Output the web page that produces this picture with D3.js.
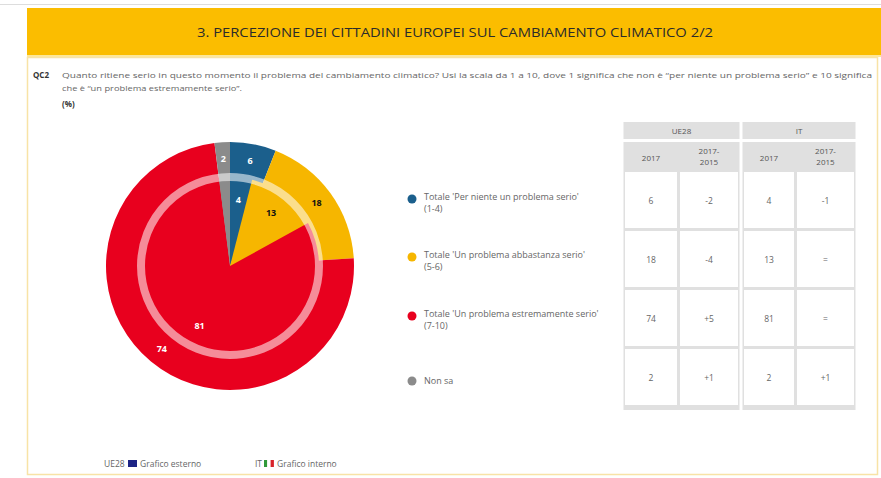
<!DOCTYPE html>
<html>
<head>
<meta charset="utf-8">
<script src="https://cdn.jsdelivr.net/npm/d3@7"></script>
<style>
  body { margin: 0; background: #fff; }
  svg text { font-family: "Open Sans", "Noto Sans", sans-serif; }
</style>
</head>
<body>
<div id="chart"></div>
<script>
const W = 881, H = 478

const categories = ["Per niente", "Abbastanza", "Estremamente", "Non sa"]
const legendLines = [
    ["Totale 'Per niente un problema serio'", "(1-4)"],
    ["Totale 'Un problema abbastanza serio'", "(5-6)"],
    ["Totale 'Un problema estremamente serio'", "(7-10)"],
    ["Non sa"]
]
const ue28Values = [6, 18, 74, 2]      // outer ring
const itValues = [4, 13, 81, 2]        // inner pie
const ue28Change = ["-2", "-4", "+5", "+1"]
const itChange = ["-1", "=", "=", "+1"]
const colors = ["#1b5f8c", "#f6b600", "#e8001e", "#8b8b8b"]
const labelColors = ["#fff", "#111", "#fff", "#fff"]

const svg = d3.select("#chart").append("svg")
    .attr("width", W)
    .attr("height", H)

// top gray rule, banner and frame
svg.append("rect").attr("x", 0).attr("y", 4).attr("width", W).attr("height", 1).attr("fill", "#ddd")
svg.append("rect").attr("x", 27.5).attr("y", 57.5).attr("width", 850).attr("height", 417)
    .attr("fill", "#fff").attr("stroke", "#f8e3a6").attr("stroke-width", 1.5)
svg.append("rect").attr("x", 27).attr("y", 8).attr("width", W - 27).attr("height", 48).attr("fill", "#fbbd00")
svg.append("rect").attr("x", 27).attr("y", 55).attr("width", W - 27).attr("height", 2).attr("fill", "#fde79a")

svg.append("text")
    .text("3. PERCEZIONE DEI CITTADINI EUROPEI SUL CAMBIAMENTO CLIMATICO 2/2")
    .attr("x", 455).attr("y", 37)
    .attr("text-anchor", "middle")
    .attr("font-size", 12.5)
    .attr("fill", "#2b2b2b")
    .attr("textLength", 516)
    .attr("lengthAdjust", "spacingAndGlyphs")

// question
svg.append("text").text("QC2").attr("x", 33).attr("y", 78)
    .attr("font-size", 8).attr("font-weight", "bold").attr("fill", "#333")
svg.append("text")
    .text("Quanto ritiene serio in questo momento il problema del cambiamento climatico? Usi la scala da 1 a 10, dove 1 significa che non è \u201cper niente un problema serio\u201d e 10 significa")
    .attr("x", 62).attr("y", 78).attr("font-size", 7.8).attr("fill", "#666")
    .attr("textLength", 810).attr("lengthAdjust", "spacingAndGlyphs")
svg.append("text")
    .text("che è \u201cun problema estremamente serio\u201d.")
    .attr("x", 62).attr("y", 91).attr("font-size", 7.8).attr("fill", "#666")
    .attr("textLength", 180).attr("lengthAdjust", "spacingAndGlyphs")
svg.append("text").text("(%)").attr("x", 62).attr("y", 107)
    .attr("font-size", 8).attr("font-weight", "bold").attr("fill", "#333")

// pies
const cx = 230, cy = 266
const rOuter = 124, rInner = 89
const pie = d3.pie().sort(null).value(d => d)
const g = svg.append("g").attr("transform", `translate(${cx},${cy})`)

const outerArc = d3.arc().innerRadius(0).outerRadius(rOuter)
const innerArc = d3.arc().innerRadius(0).outerRadius(rInner)

g.selectAll(".outer").data(pie(ue28Values)).join("path")
    .attr("class", "outer")
    .attr("d", outerArc)
    .attr("fill", (d, i) => colors[i])

g.selectAll(".inner").data(pie(itValues)).join("path")
    .attr("class", "inner")
    .attr("d", innerArc)
    .attr("fill", (d, i) => colors[i])

g.append("circle").attr("r", rInner)
    .attr("fill", "none").attr("stroke", "#fff").attr("stroke-opacity", 0.55).attr("stroke-width", 8)

const outerLabel = d3.arc().innerRadius(107).outerRadius(107)
const innerLabel = d3.arc().innerRadius(67).outerRadius(67)

g.selectAll(".outer-lbl").data(pie(ue28Values)).join("text")
    .attr("class", "outer-lbl")
    .attr("transform", d => `translate(${outerLabel.centroid(d)})`)
    .attr("dy", "0.35em")
    .attr("text-anchor", "middle")
    .attr("font-size", 9).attr("font-weight", "bold")
    .attr("fill", (d, i) => labelColors[i])
    .text(d => d.data)

g.selectAll(".inner-lbl").data(pie(itValues).filter(d => d.data >= 3)).join("text")
    .attr("class", "inner-lbl")
    .attr("transform", d => `translate(${innerLabel.centroid(d)})`)
    .attr("dy", "0.35em")
    .attr("text-anchor", "middle")
    .attr("font-size", 9).attr("font-weight", "bold")
    .attr("fill", d => labelColors[d.index])
    .text(d => d.data)

// legend
const rowTops = [172, 231, 290, 349]
const rowH = 58
const legY = [199, 257, 316, 381]

const leg = svg.selectAll(".leg").data(categories).join("g")
    .attr("class", "leg")
    .attr("transform", (d, i) => `translate(412,${legY[i]})`)
leg.append("circle").attr("r", 4.5).attr("fill", (d, i) => colors[i])
leg.each(function(d, i) {
    const multi = legendLines[i].length > 1
    legendLines[i].forEach((l, j) => {
        d3.select(this).append("text")
            .attr("x", 12).attr("y", multi ? 1 + j * 11.5 : 3)
            .attr("font-size", 9).attr("fill", "#666")
            .text(l)
    })
})

// table
const groups = [
    {name: "UE28", x0: 625, w1: 52, w2: 58, v: ue28Values, c: ue28Change},
    {name: "IT", x0: 744, w1: 50, w2: 57, v: itValues, c: itChange}
]
const gap = 3
groups.forEach(gr => {
    const total = gr.w1 + gap + gr.w2
    const tg = svg.append("g")
    tg.append("rect").attr("x", gr.x0 - 1.5).attr("y", 142)
        .attr("width", total + 3).attr("height", 268).attr("fill", "#e0e0e0")
    tg.append("rect").attr("x", gr.x0 - 1.5).attr("y", 122)
        .attr("width", total + 3).attr("height", 17).attr("fill", "#e0e0e0")
    tg.append("text").text(gr.name)
        .attr("x", gr.x0 + total / 2).attr("y", 133.5)
        .attr("text-anchor", "middle").attr("font-size", 8).attr("fill", "#555")

    const cols = [{x: gr.x0, w: gr.w1}, {x: gr.x0 + gr.w1 + gap, w: gr.w2}]
    tg.append("text").text("2017")
        .attr("x", cols[0].x + cols[0].w / 2).attr("y", 161)
        .attr("text-anchor", "middle").attr("font-size", 8).attr("fill", "#555")
    const hx = cols[1].x + cols[1].w / 2
    tg.append("text").text("2017-")
        .attr("x", hx).attr("y", 154)
        .attr("text-anchor", "middle").attr("font-size", 8).attr("fill", "#555")
    tg.append("text").text("2015")
        .attr("x", hx).attr("y", 165)
        .attr("text-anchor", "middle").attr("font-size", 8).attr("fill", "#555")

    rowTops.forEach((top, i) => {
        cols.forEach((c, k) => {
            tg.append("rect").attr("x", c.x).attr("y", top)
                .attr("width", c.w).attr("height", rowH - 2).attr("fill", "#fff")
            tg.append("text")
                .text(k === 0 ? gr.v[i] : gr.c[i])
                .attr("x", c.x + c.w / 2).attr("y", top + rowH / 2 + 3)
                .attr("text-anchor", "middle").attr("font-size", 8.5).attr("fill", "#666")
        })
    })
})

// bottom legend
const bl = svg.append("g").attr("transform", "translate(0,467)")
bl.append("text").text("UE28").attr("x", 104).attr("y", 0).attr("font-size", 8.5).attr("fill", "#666")
bl.append("rect").attr("x", 128).attr("y", -7).attr("width", 9).attr("height", 7).attr("fill", "#1c2385")
bl.append("text").text("Grafico esterno").attr("x", 140).attr("y", 0).attr("font-size", 8.5).attr("fill", "#666")
bl.append("text").text("IT").attr("x", 255).attr("y", 0).attr("font-size", 8.5).attr("fill", "#666")
const flag = ["#2f9a3a", "#fff", "#d8232a"]
flag.forEach((f, i) => {
    bl.append("rect").attr("x", 264 + i * 3.3).attr("y", -7).attr("width", 3.3).attr("height", 7).attr("fill", f)
})
bl.append("text").text("Grafico interno").attr("x", 277).attr("y", 0).attr("font-size", 8.5).attr("fill", "#666")
</script>
</body>
</html>
